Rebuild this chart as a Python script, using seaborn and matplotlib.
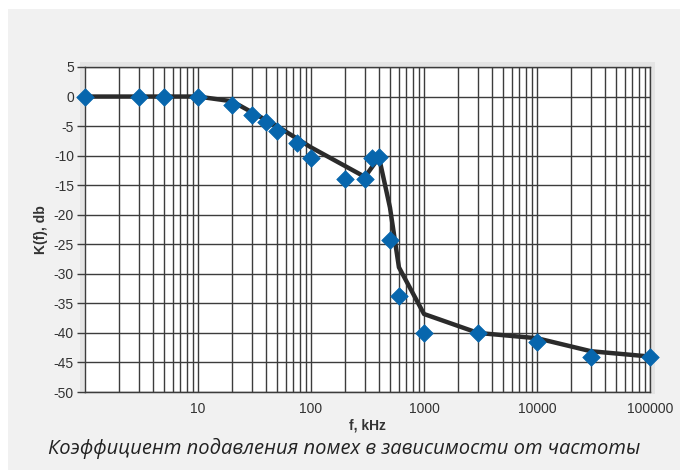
import matplotlib
matplotlib.use("Agg")
import matplotlib.pyplot as plt
from matplotlib.patches import Rectangle
from matplotlib.ticker import FixedLocator, NullFormatter
import numpy as np
import pandas as pd
import seaborn as sns

# Measured attenuation (markers)
freq_meas = [1, 3, 5, 10, 20, 30, 40, 50, 75, 100, 200, 300, 350, 400, 500, 600, 1000, 3000, 10000, 30000, 100000]
k_meas = [0, 0, 0, 0, -1.4, -3.1, -4.3, -5.9, -7.9, -10.4, -13.9, -13.9, -10.4, -10.3, -24.2, -33.8, -40.0, -40.0, -41.5, -44.1, -44.1]

# Approximating curve (line)
freq_fit = [1, 10, 20, 50, 100, 300, 400, 500, 600, 1000, 3000, 10000, 30000, 100000]
k_fit = [0, 0, -0.8, -5.0, -8.6, -13.6, -10.3, -18.8, -28.9, -36.8, -40.0, -40.9, -43.1, -44.0]

x_ticks = [10, 100, 1000, 10000, 100000]
x_tick_labels = ["10", "100", "1000", "10000", "100000"]
y_ticks = list(range(-50, 6, 5))

df_meas = pd.DataFrame({"f": freq_meas, "k": k_meas})
df_fit = pd.DataFrame({"f": freq_fit, "k": k_fit})

sns.set_theme(style="white")
plt.rcParams["font.family"] = ["Liberation Sans", "DejaVu Sans"]

fig = plt.figure(figsize=(6.88, 4.75), dpi=100, facecolor="white")
# light grey panel behind the chart
fig.patches.append(Rectangle((8 / 688, 1 - 470 / 475), 672 / 688, 461 / 475,
                             transform=fig.transFigure, facecolor="#f1f1f1",
                             edgecolor="none", zorder=-2))
# soft frame around the plotting area
fig.patches.append(Rectangle((80 / 688, 1 - 394 / 475), 575 / 688, 332 / 475,
                             transform=fig.transFigure, facecolor="#e4e4e4",
                             edgecolor="none", zorder=-1))

ax = fig.add_axes([85 / 688, 1 - 392 / 475, 565 / 688, 325 / 475])
ax.set_facecolor("white")

ax.set_xscale("log")
ax.set_xlim(1, 100000)
ax.set_ylim(-50, 5)

# grid: every decade subdivision vertically, every 5 dB horizontally
minor = [m * 10 ** d for d in range(0, 5) for m in range(2, 10)]
ax.xaxis.set_minor_locator(FixedLocator(minor))
ax.xaxis.set_minor_formatter(NullFormatter())
ax.set_xticks(x_ticks)
ax.set_xticklabels(x_tick_labels)
ax.set_yticks(y_ticks)
ax.set_yticklabels([str(v) for v in y_ticks])
ax.grid(True, which="both", axis="x", color="#3c3c3c", linewidth=1.0)
ax.grid(True, which="major", axis="y", color="#3c3c3c", linewidth=1.0)
ax.set_axisbelow(True)

for side in ["top", "right", "bottom", "left"]:
    ax.spines[side].set_visible(True)
    ax.spines[side].set_color("#3c3c3c")
    ax.spines[side].set_linewidth(1.0)

ax.tick_params(axis="y", which="major", left=True, length=6, width=1, color="#3c3c3c",
               labelsize=10, labelcolor="#333333", pad=2)
ax.tick_params(axis="x", which="both", bottom=False, length=0, labelsize=10,
               labelcolor="#333333", pad=7)

sns.lineplot(data=df_fit, x="f", y="k", ax=ax, color="#2b2b2b", linewidth=3.2,
             zorder=3, clip_on=False)
sns.scatterplot(data=df_meas, x="f", y="k", ax=ax, marker="D", s=80,
                color="#0766ad", edgecolor="#0766ad", linewidth=0.5,
                zorder=4, clip_on=False)

ax.set_xlabel("")
ax.set_ylabel("K(f), db", fontsize=10, fontweight="bold", color="#333333", labelpad=4)
fig.text(367 / 688, 1 - 425 / 475, "f, kHz", ha="center", va="center",
         fontsize=10, fontweight="bold", color="#333333")

fig.text(0.5, 1 - 448 / 475, "Коэффициент подавления помех в зависимости от частоты",
         ha="center", va="center", fontsize=14.5, style="italic", color="#222222",
         family=["Open Sans", "DejaVu Sans"])

fig.savefig("out.png", dpi=100, facecolor="white")
